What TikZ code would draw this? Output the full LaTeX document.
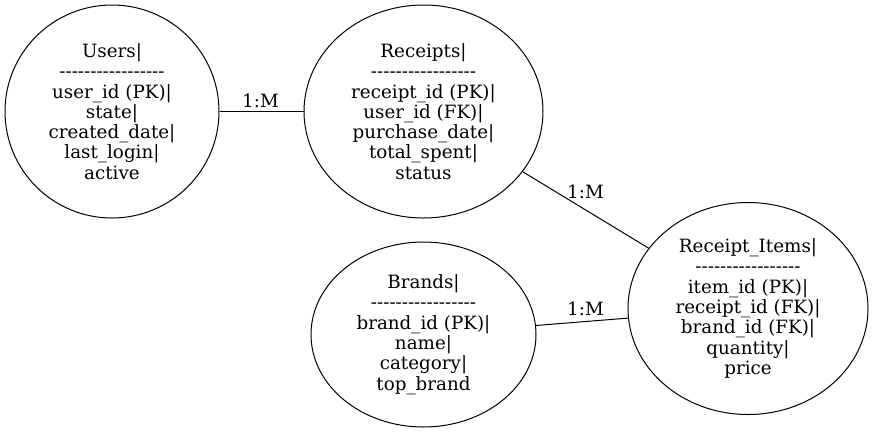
\documentclass[tikz,border=0pt]{standalone}
\usepackage{fontspec}
\setmainfont{DejaVu Serif}[Ligatures=TeXOff]
\usetikzlibrary{shapes.geometric}
\begin{document}
\begin{tikzpicture}[x=1pt,y=-1pt,
  entity/.style={draw, ellipse, inner sep=0pt, align=center, line width=1pt,
    font=\fontsize{18.3}{20.3}\selectfont},
  card/.style={inner sep=0pt, font=\fontsize{18.3}{20.3}\selectfont},
  rel/.style={line width=1pt}]
\useasboundingbox (0,0) rectangle (873,432);
\node[entity, minimum width=214, minimum height=213] (users) at (112,111.5)
  {Users|\\-----------------\\user\_id (PK)|\\state|\\created\_date|\\last\_login|\\active};
\node[entity, minimum width=239, minimum height=213] (receipts) at (423.5,111.5)
  {Receipts|\\-----------------\\receipt\_id (PK)|\\user\_id (FK)|\\purchase\_date|\\total\_spent|\\status};
\node[entity, minimum width=225, minimum height=185] (brands) at (423.5,334.5)
  {Brands|\\-----------------\\brand\_id (PK)|\\name|\\category|\\top\_brand};
\node[entity, minimum width=240, minimum height=212] (items) at (748,308.5)
  {Receipt\_Items|\\-----------------\\item\_id (PK)|\\receipt\_id (FK)|\\brand\_id (FK)|\\quantity|\\price};
\draw[rel] (users) -- (receipts);
\draw[rel] (receipts) -- (items);
\draw[rel] (brands) -- (items);
\node[card] (l1) at (260.5,101) {1:M};
\node[card] (l2) at (585.5,192) {1:M};
\node[card] (l3) at (585.5,308.5) {1:M};
\end{tikzpicture}
\end{document}
